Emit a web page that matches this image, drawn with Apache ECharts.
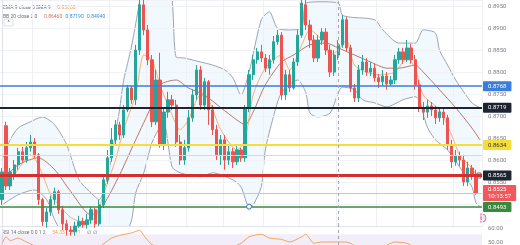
<!DOCTYPE html>
<html><head><meta charset="utf-8">
<script src="https://cdn.jsdelivr.net/npm/echarts@6/dist/echarts.min.js"></script>
<style>html,body{margin:0;padding:0;background:#fff}#c{width:520px;height:245px}</style>
</head><body><div id="c"></div>
<script>
// ---------- data ----------
const opens = [0.8510,0.8678,0.8541,0.8566,0.8589,0.8619,0.8600,0.8628,0.8641,0.8612,
0.8510,0.8460,0.8482,0.8510,0.8528,0.8487,0.8455,0.8441,0.8437,0.8450,
0.8460,0.8453,0.8464,0.8487,0.8455,0.8498,0.8555,0.8605,0.8646,0.8680,
0.8657,0.8714,0.8764,0.8737,0.8850,0.8953,0.8896,0.8828,0.8687,0.8782,
0.8634,0.8709,0.8737,0.8725,0.8641,0.8600,0.8628,0.8696,0.8748,0.8805,
0.8725,0.8778,0.8714,0.8669,0.8612,0.8646,0.8600,0.8619,0.8596,0.8623,
0.8605,0.8719,0.8794,0.8828,0.8846,0.8832,0.8809,0.8828,0.8869,0.8884,
0.8748,0.8794,0.8764,0.8823,0.8884,0.8953,0.8907,0.8873,0.8832,0.8873,
0.8891,0.8850,0.8800,0.8839,0.8862,0.8919,0.8855,0.8764,0.8741,0.8805,
0.8823,0.8800,0.8809,0.8787,0.8778,0.8791,0.8773,0.8782,0.8828,0.8846,
0.8828,0.8855,0.8828,0.8771,0.8719,0.8709,0.8723,0.8714,0.8696,0.8709,
0.8696,0.8634,0.8596,0.8610,0.8600,0.8550,0.8582,0.8566];
const closes = [0.8573,0.8541,0.8573,0.8589,0.8619,0.8600,0.8628,0.8641,0.8612,0.8510,
0.8460,0.8482,0.8510,0.8528,0.8487,0.8455,0.8441,0.8437,0.8450,0.8460,
0.8453,0.8464,0.8487,0.8455,0.8498,0.8555,0.8605,0.8646,0.8680,0.8657,
0.8714,0.8764,0.8737,0.8850,0.8953,0.8896,0.8828,0.8687,0.8782,0.8634,
0.8709,0.8737,0.8725,0.8641,0.8600,0.8628,0.8696,0.8748,0.8805,0.8725,
0.8778,0.8714,0.8669,0.8612,0.8646,0.8600,0.8619,0.8596,0.8623,0.8605,
0.8719,0.8794,0.8828,0.8846,0.8832,0.8809,0.8828,0.8869,0.8884,0.8748,
0.8794,0.8764,0.8823,0.8884,0.8957,0.8907,0.8873,0.8832,0.8873,0.8891,
0.8850,0.8800,0.8839,0.8862,0.8919,0.8855,0.8764,0.8741,0.8805,0.8823,
0.8800,0.8809,0.8787,0.8778,0.8791,0.8773,0.8782,0.8828,0.8846,0.8828,
0.8855,0.8828,0.8771,0.8719,0.8709,0.8723,0.8714,0.8696,0.8709,0.8696,
0.8634,0.8596,0.8610,0.8600,0.8550,0.8582,0.8566,0.8525];
const lows = [0.8498,0.8532,0.8532,0.8555,0.8578,0.8594,0.8594,0.8619,0.8605,0.8498,
0.8450,0.8446,0.8473,0.8498,0.8478,0.8441,0.8428,0.8428,0.8428,0.8446,
0.8446,0.8444,0.8455,0.8446,0.8450,0.8491,0.8546,0.8596,0.8634,0.8646,
0.8650,0.8709,0.8728,0.8725,0.8839,0.8884,0.8816,0.8675,0.8680,0.8628,
0.8623,0.8696,0.8714,0.8630,0.8589,0.8589,0.8619,0.8687,0.8737,0.8714,
0.8714,0.8680,0.8657,0.8600,0.8589,0.8578,0.8589,0.8582,0.8589,0.8596,
0.8596,0.8709,0.8782,0.8819,0.8823,0.8800,0.8794,0.8819,0.8862,0.8737,
0.8737,0.8755,0.8760,0.8814,0.8878,0.8896,0.8855,0.8823,0.8823,0.8862,
0.8839,0.8789,0.8791,0.8828,0.8855,0.8846,0.8755,0.8732,0.8732,0.8794,
0.8791,0.8791,0.8778,0.8764,0.8769,0.8760,0.8769,0.8773,0.8819,0.8819,
0.8823,0.8819,0.8760,0.8709,0.8691,0.8696,0.8700,0.8682,0.8687,0.8680,
0.8623,0.8582,0.8587,0.8587,0.8541,0.8541,0.8555,0.8521];
const highs = [0.8582,0.8687,0.8582,0.8600,0.8628,0.8630,0.8641,0.8657,0.8650,0.8616,
0.8514,0.8491,0.8519,0.8537,0.8532,0.8496,0.8464,0.8450,0.8460,0.8473,
0.8469,0.8478,0.8494,0.8491,0.8510,0.8564,0.8623,0.8673,0.8691,0.8687,
0.8725,0.8771,0.8769,0.8862,0.8975,0.8975,0.8907,0.8839,0.8805,0.8844,
0.8719,0.8755,0.8748,0.8737,0.8657,0.8646,0.8714,0.8760,0.8816,0.8814,
0.8787,0.8782,0.8725,0.8680,0.8657,0.8657,0.8634,0.8628,0.8634,0.8628,
0.8725,0.8805,0.8839,0.8855,0.8862,0.8841,0.8839,0.8882,0.8896,0.8891,
0.8805,0.8805,0.8832,0.8896,0.8969,0.8964,0.8919,0.8884,0.8884,0.8900,
0.8900,0.8862,0.8850,0.8873,0.8930,0.8925,0.8862,0.8773,0.8816,0.8839,
0.8832,0.8823,0.8819,0.8796,0.8805,0.8800,0.8791,0.8839,0.8855,0.8855,
0.8873,0.8864,0.8839,0.8782,0.8732,0.8737,0.8732,0.8723,0.8719,0.8719,
0.8703,0.8646,0.8623,0.8619,0.8612,0.8596,0.8589,0.8578];

// Bollinger band / EMA / RSI readings: bar index + value
const bbUpperIdx = [0,2,4,7,10,13,16,19,22,24,26,27,28,29,30,31,32,33,34,35,37,40,42,43,45,49,52,55,57,59,61,64,66,68,71,74,75,79,83,84,86,92,94,98,102,104,107,108,110,112,114,116,118];
const bbUpperVal = [0.8600,0.8646,0.8673,0.8687,0.8698,0.8680,0.8634,0.8555,0.8525,0.8510,0.8560,0.8605,0.8660,0.8714,0.8780,0.8820,0.8860,0.8910,0.8964,0.9030,0.9055,0.9055,0.8964,0.8834,0.8832,0.8823,0.8816,0.8805,0.8787,0.8748,0.8800,0.8919,0.8937,0.8900,0.8896,0.8900,0.8957,0.8960,0.8957,0.8930,0.8925,0.8919,0.8896,0.8866,0.8866,0.8896,0.8889,0.8850,0.8816,0.8782,0.8755,0.8730,0.8719];
const bbLowerIdx = [0,4,8,11,13,16,22,27,30,32,33,35,37,39,40,42,44,49,52,57,59,61,62,64,65,67,69,73,75,76,78,81,83,84,87,89,92,95,99,102,103,105,107,110,113,116,117,118];
const bbLowerVal = [0.8498,0.8521,0.8532,0.8510,0.8464,0.8419,0.8384,0.8384,0.8419,0.8464,0.8525,0.8571,0.8639,0.8675,0.8680,0.8584,0.8571,0.8562,0.8571,0.8555,0.8539,0.8494,0.8498,0.8539,0.8623,0.8698,0.8753,0.8782,0.8753,0.8707,0.8698,0.8707,0.8753,0.8766,0.8760,0.8737,0.8730,0.8721,0.8737,0.8744,0.8737,0.8675,0.8646,0.8623,0.8584,0.8539,0.8503,0.8494];
const bbBasisIdx = [0,4,9,13,17,22,25,29,33,37,39,43,46,50,54,58,60,62,65,69,72,76,80,83,87,91,95,98,102,104,108,112,116,118];
const bbBasisVal = [0.8555,0.8589,0.8605,0.8578,0.8528,0.8475,0.8498,0.8566,0.8646,0.8725,0.8771,0.8782,0.8764,0.8748,0.8719,0.8691,0.8680,0.8709,0.8771,0.8823,0.8839,0.8862,0.8866,0.8855,0.8839,0.8823,0.8809,0.8809,0.8816,0.8800,0.8760,0.8719,0.8673,0.8646];
const emaIdx = [0,3,7,9,12,14,17,20,23,25,28,30,33,35,37,39,41,44,46,49,51,54,58,60,62,65,69,71,74,76,79,81,83,85,87,90,93,97,100,102,104,108,111,113,116,117];
const emaVal = [0.8543,0.8566,0.8612,0.8589,0.8521,0.8498,0.8469,0.8460,0.8469,0.8521,0.8600,0.8669,0.8748,0.8839,0.8828,0.8771,0.8725,0.8669,0.8691,0.8748,0.8737,0.8669,0.8623,0.8646,0.8748,0.8809,0.8839,0.8805,0.8862,0.8896,0.8873,0.8839,0.8850,0.8873,0.8816,0.8800,0.8794,0.8800,0.8832,0.8809,0.8748,0.8714,0.8657,0.8612,0.8582,0.8566];
const rsiIdx = [0,1,2,4,6,8,11,17,22,24,27,29,32,34,35,37,40,44,49,54,59,61,64,66,69,71,74,75,77,79,85,88,93,97,100,103,111,117];
const rsiVal = [49,54,51,53,50,47,40,36,42,46,53,55,57,59,55,48,46,44,45,43,49,54,56,53,52,50,54,56,49,50,50,46,45,50,49,44,38,35];

// horizontal levels drawn on the chart
const levelPrices = [0.8768, 0.8719, 0.8634, 0.8565, 0.8493];
const alertPrice = 0.8612;
const countdown = '10:13:57';
const rsiLegendVals = ['54.33', '50.11'];
const priceTicks = {min: 0.845, max: 0.8964, step: 0.005};
const rsiScale = {min: 47.7, max: 62.3, labels: [50, 60], bandLow: 30, bandTop: 56};
const sessionBreakIdx = 83;
const vGridIdx = [8,17,27,36,46,55,65,74,83,93,102,112];

// ---------- build ----------
const times = [];
(function(){ let d = Date.UTC(2024,0,8,0); for (let i=0;i<119;i++){ const t=new Date(d+i*3600e3); times.push((t.getUTCMonth()+1)+'-'+t.getUTCDate()+' '+String(t.getUTCHours()).padStart(2,'0')+':00'); } })();
const N = times.length;
const candles = opens.map((o,i)=>[o, closes[i], lows[i], highs[i]]);
const pair = (a,b)=>a.map((x,i)=>[x,b[i]]);
const lastPrice = closes[closes.length-1];
const f5 = v=>v.toFixed(5);
const FONT = 'Roboto, "Noto Sans", sans-serif';

const levelStyles = [
  {c:'#3b7ddd', w:1.5, bg:'#3b7ddd', fg:'#fff'},
  {c:'#1e2530', w:2,   bg:'#1e2530', fg:'#fff'},
  {c:'#f5de3a', w:2,   bg:'#f5de3a', fg:'#333'},
  {c:'#d32f2f', w:3,   bg:'#1e2530', fg:'#fff'},
  {c:'#3a8a3d', w:1.5, bg:'#3a8a3d', fg:'#fff'}
];
const tagLabel = (bg, fg, txt) => ({show:true, position:'end', distance:1, formatter:txt, backgroundColor:bg, color:fg,
  fontSize:6, padding:[1.5,5,1.5,5], borderRadius:1, fontFamily:FONT, lineHeight:7});

const hLines = levelPrices.map((p,i)=>({yAxis:p, lineStyle:{color:levelStyles[i].c, width:levelStyles[i].w, type:'solid'},
  label: tagLabel(levelStyles[i].bg, levelStyles[i].fg, p.toFixed(4))}));
hLines.unshift({yAxis:alertPrice, lineStyle:{color:'#f6cccc', width:1, type:'solid'}, label:{show:false}});
hLines.push({yAxis:lastPrice, lineStyle:{color:'#f4b4b4', width:1, type:'solid'},
  label: Object.assign(tagLabel('#f0585b','#fff', lastPrice.toFixed(4)+'\n'+countdown), {padding:[1,5,1,5]})});
hLines.push({xAxis:times[sessionBreakIdx], lineStyle:{color:'#a3a6af', width:1, type:[3,3]}, label:{show:false}});

const lowTouchK = bbLowerIdx.indexOf(61);

const option = {
  animation:false,
  backgroundColor:'#ffffff',
  textStyle:{fontFamily:FONT},
  grid:[
    {left:0, top:0, width:482, height:226, containLabel:false},
    {left:0, top:226, width:482, height:19, containLabel:false}
  ],
  xAxis:[
    {type:'category', gridIndex:0, data:times, boundaryGap:true, z:1.5,
      axisLine:{show:true, lineStyle:{color:'#e0e3eb'}}, axisTick:{show:false}, axisLabel:{show:false},
      splitLine:{show:true, interval:(i)=>vGridIdx.includes(i), lineStyle:{color:'#eef0f4', width:1}}},
    {type:'value', gridIndex:0, min:-0.5, max:N-0.5, show:false},
    {type:'value', gridIndex:1, min:-0.5, max:N-0.5, show:false}
  ],
  yAxis:[
    {type:'value', gridIndex:0, position:'right', min:priceTicks.min, max:priceTicks.max, interval:priceTicks.step, z:1.5,
      axisLine:{show:true, lineStyle:{color:'#e0e3eb'}}, axisTick:{show:false},
      axisLabel:{show:true, margin:6, color:'#7b7f8a', fontSize:6, formatter:v=>v.toFixed(4), showMinLabel:false, showMaxLabel:false},
      splitLine:{show:true, lineStyle:{color:'#f0f2f5'}}},
    {type:'value', gridIndex:1, position:'right', min:rsiScale.min, max:rsiScale.max,
      axisLine:{show:true, lineStyle:{color:'#e0e3eb'}}, axisTick:{show:false},
      axisLabel:{margin:6, color:'#7b7f8a', fontSize:6, formatter:v=>v.toFixed(2), customValues:rsiScale.labels},
      splitLine:{show:false}}
  ],
  series:[
    {type:'line', name:'bbUpper', xAxisIndex:1, yAxisIndex:0, data:pair(bbUpperIdx,bbUpperVal), symbol:'none', smooth:0.25, z:1,
      lineStyle:{color:'#9ba3b2', width:1}, areaStyle:{color:'rgba(33,150,243,0.09)', origin:'start'}},
    {type:'line', name:'bbLower', xAxisIndex:1, yAxisIndex:0, data:pair(bbLowerIdx,bbLowerVal), symbol:'none', smooth:0.25, z:1,
      lineStyle:{color:'#9ba3b2', width:1}, areaStyle:{color:'#ffffff', opacity:1, origin:'start'},
      markPoint:{symbol:'circle', symbolSize:5, silent:true, label:{show:false},
        itemStyle:{color:'#ffffff', borderColor:'#3d6fb5', borderWidth:1},
        data:[{coord:[bbLowerIdx[lowTouchK], bbLowerVal[lowTouchK]]}]}},
    {type:'line', name:'bbBasis', xAxisIndex:1, yAxisIndex:0, data:pair(bbBasisIdx,bbBasisVal), symbol:'none', smooth:0.25, z:3,
      lineStyle:{color:'#b9786a', width:1}},
    {type:'line', name:'ema', xAxisIndex:1, yAxisIndex:0, data:pair(emaIdx,emaVal), symbol:'none', smooth:0.25, z:3,
      lineStyle:{color:'#f7a35a', width:1, opacity:0.85}},
    {type:'candlestick', name:'price', xAxisIndex:0, yAxisIndex:0, data:candles, barWidth:2.8, z:4,
      itemStyle:{color:'#26a69a', color0:'#ef5350', borderColor:'#26a69a', borderColor0:'#ef5350', borderWidth:1}},
    {type:'line', name:'levels', xAxisIndex:0, yAxisIndex:0, data:[], z:5,
      markLine:{symbol:['none','none'], silent:true, animation:false, precision:5, data:hLines}},
    {type:'line', name:'rsi', xAxisIndex:2, yAxisIndex:1, data:pair(rsiIdx,rsiVal), symbol:'none', smooth:0.2, z:3,
      lineStyle:{color:'#f2a55a', width:1},
      markArea:{silent:true, itemStyle:{color:'rgba(149,117,205,0.13)'}, data:[[{yAxis:rsiScale.bandLow},{yAxis:rsiScale.bandTop}]]},
      markLine:{symbol:['none','none'], silent:true, precision:2, label:{show:false}, lineStyle:{color:'#a3a6af', width:1, type:[3,3]}, data:[{xAxis:sessionBreakIdx}]}}
  ],
  graphic:[
    {type:'text', left:3, top:2, silent:true, style:{text:'{a|EMA 9 close 0 SMA 9}  {v|'+f5(emaVal[emaVal.length-1])+'}',
      rich:{a:{fill:'#6a6d78', fontSize:5, fontFamily:FONT}, v:{fill:'#f39b3c', fontSize:5, fontFamily:FONT}}}},
    {type:'text', left:3, top:11, silent:true, style:{text:'{a|BB 20 close 2 0}  {b|'+f5(bbBasisVal[bbBasisVal.length-1])+'} {c|'+f5(bbUpperVal[bbUpperVal.length-1])+'} {c|'+f5(bbLowerVal[bbLowerVal.length-1])+'}',
      rich:{a:{fill:'#6a6d78', fontSize:5, fontFamily:FONT}, b:{fill:'#e07050', fontSize:5, fontFamily:FONT}, c:{fill:'#2f8ed8', fontSize:5, fontFamily:FONT}}}},
    {type:'rect', shape:{x:4, y:19, width:9, height:7, r:1}, silent:true, style:{fill:'#fff', stroke:'#d1d4dc', lineWidth:0.8}},
    {type:'text', x:8.5, y:22.5, silent:true, style:{text:'^', fill:'#555', fontSize:5, align:'center', verticalAlign:'middle', fontFamily:FONT}},
    {type:'text', left:2, top:227, silent:true, style:{text:'{a|RSI 14 close 0 0 1 2}  {v|'+rsiLegendVals[0]+'} {w|'+rsiLegendVals[1]+'}  {a|\u2205 \u2205}',
      rich:{a:{fill:'#6a6d78', fontSize:5, fontFamily:FONT}, v:{fill:'#f39b3c', fontSize:5, fontFamily:FONT}, w:{fill:'#e8c23a', fontSize:5, fontFamily:FONT}}}},
    {type:'rect', shape:{x:472, y:214, width:14, height:8, r:4}, silent:true, style:{fill:'#fbe1ec', stroke:'#d0588f', lineWidth:0.8}},
    {type:'text', x:479, y:218.2, silent:true, style:{text:'\u25CE\u25CE', fill:'#c2185b', fontSize:4.5, align:'center', verticalAlign:'middle'}},
    {type:'rect', shape:{x:477, y:173, width:4, height:5}, silent:true, style:{fill:'#fff', stroke:'#333', lineWidth:0.7}}
  ]
};
const chart = echarts.init(document.getElementById('c'), null, {renderer:'canvas', width:520, height:245});
chart.setOption(option);
</script>
</body></html>
